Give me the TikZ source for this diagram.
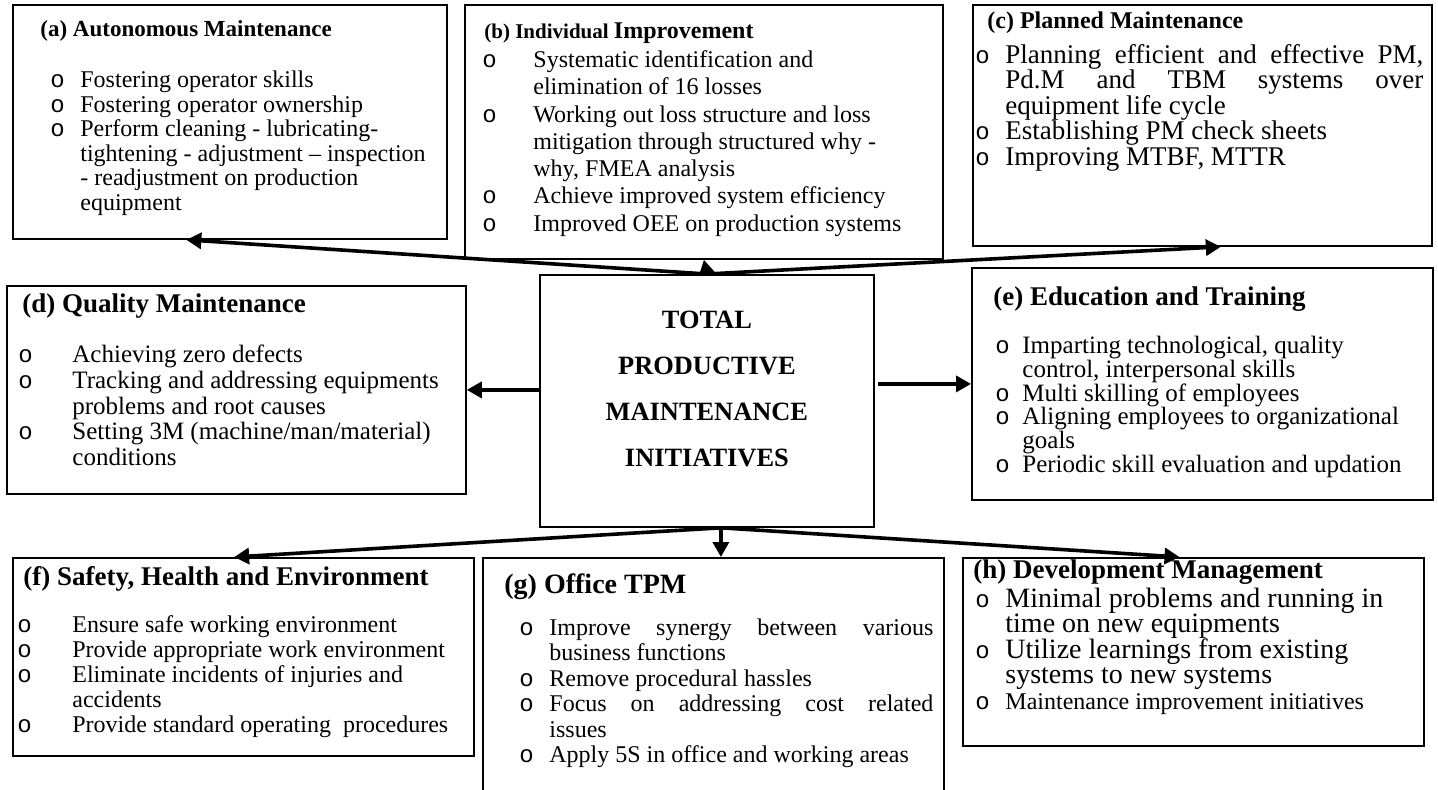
\documentclass[tikz,border=0pt]{standalone}
\usepackage{fontspec}
\setmainfont{Liberation Serif}
\newfontfamily\bulletfont{Liberation Mono}
\usetikzlibrary{arrows.meta,positioning,calc}

\newlength{\bgap}
\newcommand{\bu}{\makebox[\bgap][l]{\bulletfont\fontsize{12}{12}\selectfont o}}
\newcommand{\cn}{\hspace*{\bgap}}
\newcommand{\fs}[2]{\fontsize{#1}{#2}\selectfont}
\newcommand{\tstrut}{\rule{0pt}{11pt}}
\newcommand{\bodyfont}[3]{\fontsize{#1}{#2}\selectfont\lineskiplimit=-20pt\setlength{\bgap}{#3}}

\begin{document}
\begin{tikzpicture}[x=0.5pt,y=-0.5pt,
  panel/.style 2 args={draw,line width=0.9pt,inner sep=0pt,anchor=north west,
    minimum width=#1,minimum height=#2},
  head/.style={inner sep=0pt,align=left,font=\bfseries\fontsize{#1}{#1}\selectfont},
  body/.style n args={3}{inner sep=0pt,align=left,font=\bodyfont{#1}{#2}{#3}},
  link/.style={line width=1.8pt,-{Triangle[length=7.5pt,width=8pt]}}
]
\useasboundingbox (0,0) rectangle (1438,789);

% boxes
\node[panel={217pt}{117pt}] (a) at (12,4) {};
\node[panel={239pt}{127pt}] (b) at (464,4) {};
\node[panel={229.5pt}{120.5pt}] (c) at (972,4) {};
\node[panel={167pt}{126pt}] (ctr) at (539,274) {};
\node[panel={229.5pt}{104pt}] (d) at (6,285) {};
\node[panel={230.5pt}{116pt}] (e) at (971,267) {};
\node[panel={230.5pt}{99pt}] (f) at (12,557) {};
\node[panel={230.5pt}{119pt}] (g) at (482,557) {};
\node[panel={230.5pt}{94pt}] (h) at (962,557) {};

% centre
\node[inner sep=0pt,align=center,font=\bfseries\fs{13.2}{23},below=16pt of ctr.north] (ctr-t)
  {\tstrut TOTAL\\PRODUCTIVE\\MAINTENANCE\\INITIATIVES};

% (a)
\node[head=11.5,below right=5pt and 14pt of a.north west] (a-h) {\tstrut(a) Autonomous Maintenance};
\node[body={12}{12.3}{15pt},below right=30.5pt and 19pt of a.north west] (a-t)
  {\tstrut\bu Fostering operator skills\\
   \bu Fostering operator ownership\\
   \bu Perform cleaning - lubricating-\\
   \cn tightening - adjustment -- inspection\\
   \cn - readjustment on production\\
   \cn equipment};

% (b)
\node[head=10.5,below right=6pt and 10pt of b.north west] (b-h) {\tstrut(b) Individual {\fs{12}{12}Improvement}};
\node[body={12}{13.65}{25.5pt},below right=20.5pt and 9pt of b.north west] (b-t)
  {\tstrut\bu Systematic identification and\\
   \cn elimination of 16 losses\\
   \bu Working out loss structure and loss\\
   \cn mitigation through structured why -\\
   \cn why, FMEA analysis\\
   \bu Achieve improved system efficiency\\
   \bu Improved OEE on production systems};

% (c)
\node[head=12,below right=1pt and 7.5pt of c.north west] (c-h) {\tstrut(c) Planned Maintenance};
\node[body={13.5}{12.75}{15pt},below right=18.5pt and 1.5pt of c.north west] (c-t)
  {\tstrut\bu\makebox[209pt][s]{Planning efficient and effective PM,}\\
   \cn\makebox[209pt][s]{Pd.M and TBM systems over}\\
   \cn equipment life cycle\\
   \bu Establishing PM check sheets\\
   \bu Improving MTBF, MTTR};

% (d)
\node[head=13.5,below right=2.5pt and 8pt of d.north west] (d-h) {\tstrut(d) Quality Maintenance};
\node[body={12.5}{12.9}{27pt},below right=27.5pt and 6pt of d.north west] (d-t)
  {\tstrut\bu Achieving zero defects\\
   \bu Tracking and addressing equipments\\
   \cn problems and root causes\\
   \bu Setting 3M (machine/man/material)\\
   \cn conditions};

% (e)
\node[head=13.5,below right=8pt and 11pt of e.north west] (e-h) {\tstrut(e) Education and Training};
\node[body={12.5}{11.9}{13.5pt},below right=32pt and 12pt of e.north west] (e-t)
  {\tstrut\bu Imparting technological, quality\\
   \cn control, interpersonal skills\\
   \bu Multi skilling of employees\\
   \bu Aligning employees to organizational\\
   \cn goals\\
   \bu Periodic skill evaluation and updation};

% (f)
\node[head=13.5,below right=3pt and 5.5pt of f.north west] (f-h) {\tstrut(f) Safety, Health and Environment};
\node[body={12}{12.5}{27.5pt},below right=26.5pt and 2.5pt of f.north west] (f-t)
  {\tstrut\bu Ensure safe working environment\\
   \bu Provide appropriate work environment\\
   \bu Eliminate incidents of injuries and\\
   \cn accidents\\
   \bu Provide standard operating\ \ procedures};

% (g)
\node[head=14,below right=7pt and 11pt of g.north west] (g-h) {\tstrut(g) Office TPM};
\node[body={12}{12.7}{15pt},below right=28pt and 18.5pt of g.north west] (g-t)
  {\tstrut\bu\makebox[192pt][s]{Improve synergy between various}\\
   \cn business functions\\
   \bu Remove procedural hassles\\
   \bu\makebox[192pt][s]{Focus on addressing cost related}\\
   \cn issues\\
   \bu Apply 5S in office and working areas};

% (h)
\node[head=13.5,below right=-0.5pt and 5.5pt of h.north west] (h-h) {\tstrut(h) Development Management};
\node[body={14}{12.75}{15pt},below right=14pt and 6.5pt of h.north west] (h-t)
  {\tstrut\bu Minimal problems and running in\\
   \cn time on new equipments\\
   \bu Utilize learnings from existing\\
   \cn systems to new systems\\
   {\fs{12}{12}\bu Maintenance improvement initiatives}};

% connectors
\coordinate (hub) at ($(ctr.south)+(7pt,0)$);
\draw[link] (ctr.north) -- ($(a.south west)!0.4!(a.south east)$);
\draw[link] (ctr.north) -- (b.south);
\draw[link] (ctr.north) -- ($(c.south west)!0.54!(c.south east)$);
\draw[link] (ctr.west |- d.east) -- (d.east);
\draw[link,shorten <=1.5pt] (ctr.east |- e.west) -- (e.west);
\draw[link] (hub) -- ($(f.north west)!0.48!(f.north east)$);
\draw[link] (hub) -- (hub |- g.north);
\draw[link] (hub) -- ($(h.north west)!0.47!(h.north east)$);
\end{tikzpicture}
\end{document}
